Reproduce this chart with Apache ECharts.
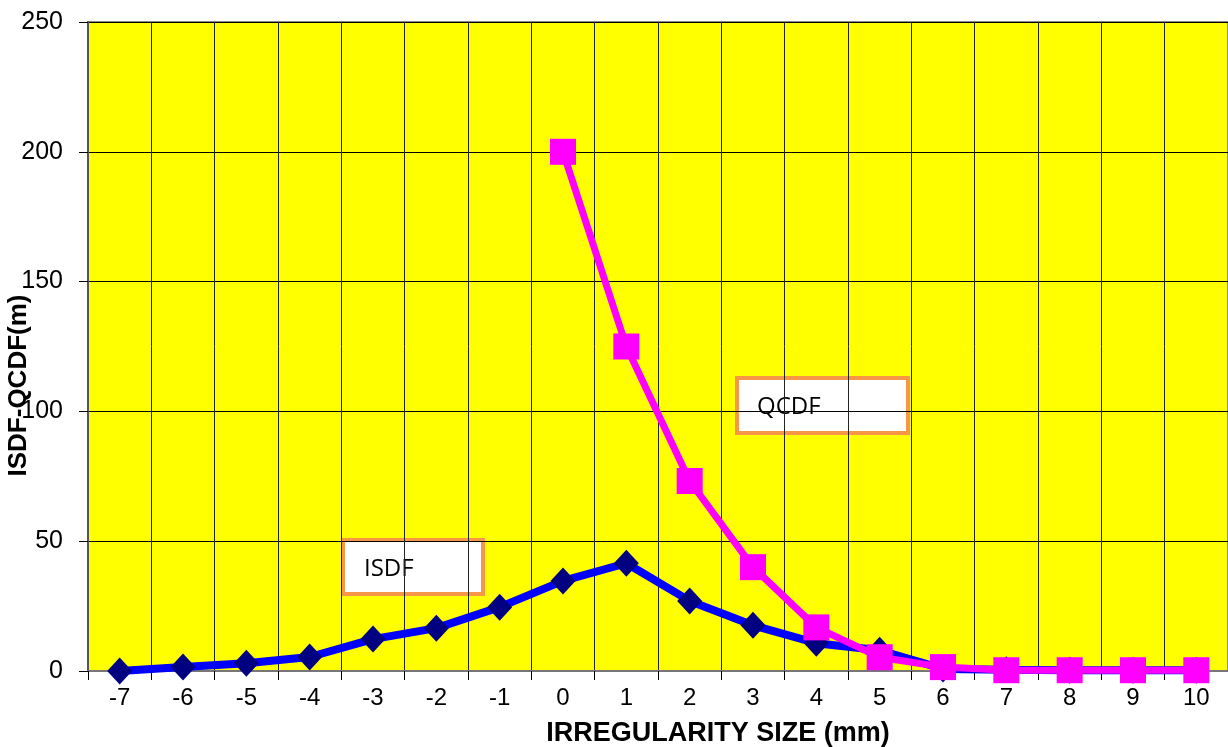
<!DOCTYPE html>
<html>
<head>
<meta charset="utf-8">
<script src="https://cdn.jsdelivr.net/npm/echarts@6/dist/echarts.min.js"></script>
<style>
    html, body { margin: 0; padding: 0; background: #fff; }
    #chart { width: 1228px; height: 747px; }
</style>
</head>
<body>
<div id="chart"></div>
<script>
    // 不规则尺寸 (mm)
    const sizes = ['-7', '-6', '-5', '-4', '-3', '-2', '-1', '0', '1', '2', '3', '4', '5', '6', '7', '8', '9', '10'];
    // ISDF
    const isdf = [0, 1.5, 3, 5.4, 12.3, 16.5, 24.6, 34.7, 41.5, 27, 17.6, 10.7, 8, 0.8, 0.5, 0.3, 0.3, 0.3];
    // QCDF, starts at 0 mm
    const qcdf = [null, null, null, null, null, null, null, 200, 125, 73.2, 40, 16.8, 5.3, 1.5, 0.3, 0.3, 0.3, 0.3];
    const yTicks = [0, 50, 100, 150, 200, 250];

    const chart = echarts.init(document.getElementById('chart'));
    const font = '"Liberation Sans", Arial, sans-serif';

    chart.setOption({
        animation: false,
        grid: {
            left: 88,
            right: 0,
            top: 22,
            bottom: 76,
            containLabel: false,
            outerBoundsMode: 'none',
            show: true,
            backgroundColor: '#ffff00',
            borderColor: '#888',
            borderWidth: 2
        },
        xAxis: {
            type: 'category',
            data: sizes,
            boundaryGap: true,
            name: 'IRREGULARITY SIZE (mm)',
            nameLocation: 'middle',
            nameGap: 49,
            nameMoveOverlap: false,
            nameTextStyle: {
                fontFamily: font,
                fontWeight: 'bold',
                fontSize: 27,
                color: '#000',
                padding: [0, 0, 0, 120]
            },
            axisLine: { lineStyle: { color: '#777', width: 2 } },
            axisTick: { show: true, length: 9, lineStyle: { color: '#000' } },
            axisLabel: { fontFamily: font, fontSize: 24, color: '#000', margin: 15 },
            splitLine: { show: true, lineStyle: { color: '#222', width: 1 } }
        },
        yAxis: {
            type: 'value',
            min: 0,
            max: 250,
            interval: 50,
            name: 'ISDF-QCDF(m)',
            nameLocation: 'middle',
            nameGap: 56,
            nameRotate: 90,
            nameMoveOverlap: false,
            nameTextStyle: {
                fontFamily: font,
                fontWeight: 'bold',
                fontSize: 26,
                color: '#000',
                padding: [0, 78, 0, 0]
            },
            axisLine: { show: true, lineStyle: { color: '#555', width: 2 } },
            axisTick: { show: true, length: 9, lineStyle: { color: '#000' } },
            axisLabel: {
                fontFamily: font,
                fontSize: 25,
                color: '#000',
                margin: 25,
                formatter: (v) => (yTicks.indexOf(v) >= 0 ? String(v) : '')
            },
            splitLine: { show: true, lineStyle: { color: '#000', width: 1 } }
        },
        series: [
            {
                name: 'ISDF',
                type: 'line',
                data: isdf,
                symbol: 'diamond',
                symbolSize: [25, 27],
                lineStyle: { color: '#0000ff', width: 8 },
                itemStyle: { color: '#000080' },
                z: 3
            },
            {
                name: 'QCDF',
                type: 'line',
                data: qcdf,
                symbol: 'rect',
                symbolSize: 26,
                lineStyle: { color: '#ff00ff', width: 7 },
                itemStyle: { color: '#ff00ff' },
                z: 4
            }
        ],
        graphic: [
            {
                type: 'group',
                left: 341,
                top: 538,
                children: [
                    {
                        type: 'rect',
                        shape: { x: 0, y: 0, width: 140, height: 54 },
                        style: { fill: '#fff', stroke: '#f79646', lineWidth: 4 }
                    },
                    {
                        type: 'text',
                        x: 21,
                        y: 29,
                        style: { text: 'ISDF', fontFamily: '"Open Sans", sans-serif', fontSize: 24, fill: '#000', verticalAlign: 'middle' }
                    }
                ]
            },
            {
                type: 'group',
                left: 735,
                top: 376,
                children: [
                    {
                        type: 'rect',
                        shape: { x: 0, y: 0, width: 171, height: 55 },
                        style: { fill: '#fff', stroke: '#f79646', lineWidth: 4 }
                    },
                    {
                        type: 'text',
                        x: 20,
                        y: 29,
                        style: { text: 'QCDF', fontFamily: '"Open Sans", sans-serif', fontSize: 24, fill: '#000', verticalAlign: 'middle' }
                    }
                ]
            }
        ]
    });
</script>
</body>
</html>
